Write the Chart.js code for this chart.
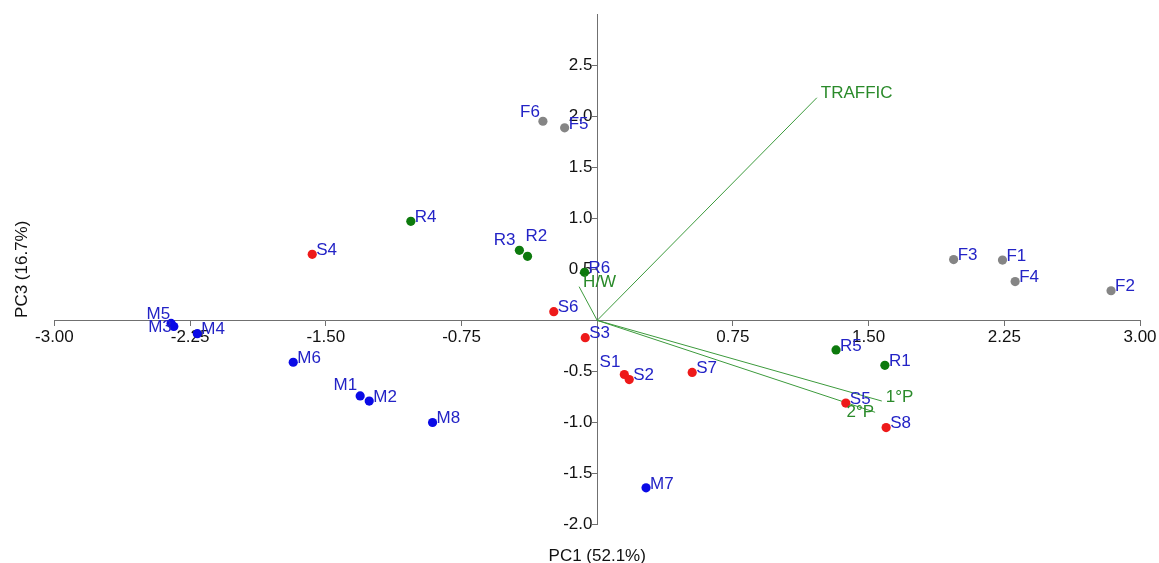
<!DOCTYPE html>
<html>
<head>
<meta charset="utf-8">
<script src="https://cdn.jsdelivr.net/npm/chart.js@4"></script>
<style>
  body { margin: 0; background: #fff; }
  #wrap { width: 1159px; height: 563px; }
</style>
</head>
<body>
<div id="wrap"><canvas id="myChart"></canvas></div>
<script>
// sample scores on PC1 / PC3
const mNames = ["M1", "M2", "M3", "M4", "M5", "M6", "M7", "M8"];
const mX = [-1.31, -1.26, -2.34, -2.21, -2.355, -1.68, 0.27, -0.91];
const mY = [-0.74, -0.79, -0.06, -0.13, -0.03, -0.41, -1.64, -1.0];

const fNames = ["F1", "F2", "F3", "F4", "F5", "F6"];
const fX = [2.24, 2.84, 1.97, 2.31, -0.18, -0.3];
const fY = [0.59, 0.29, 0.595, 0.38, 1.885, 1.95];

const rNames = ["R1", "R2", "R3", "R4", "R5", "R6"];
const rX = [1.59, -0.385, -0.43, -1.03, 1.32, -0.07];
const rY = [-0.44, 0.627, 0.686, 0.97, -0.29, 0.47];

const sNames = ["S1", "S2", "S3", "S4", "S5", "S6", "S7", "S8"];
const sX = [0.15, 0.177, -0.066, -1.575, 1.374, -0.24, 0.525, 1.597];
const sY = [-0.53, -0.58, -0.17, 0.647, -0.81, 0.085, -0.51, -1.05];

// variable loadings (arrows from origin)
const vecNames = ["TRAFFIC", "H/W", "1°P", "2°P"];
const vecX = [1.214, -0.1, 1.573, 1.536];
const vecY = [2.18, 0.33, -0.79, -0.9];

const xTicks = [-3, -2.25, -1.5, -0.75, 0, 0.75, 1.5, 2.25, 3];
const yTicks = [-2, -1.5, -1, -0.5, 0, 0.5, 1, 1.5, 2, 2.5];

// label placement tweaks [align, dx, dy]
const nudge = {
  M5: ["right", -1, -9],
  M3: ["right", -2, 1],
  M1: ["right", -3, -11],
  R3: ["right", -4, -10],
  R2: ["left", -2, -20],
  F6: ["right", -3, -9],
  S1: ["right", -4, -12],
  "2°P": ["right", -1, 0]
};

const FONT = 'Arial, "Liberation Sans", sans-serif';
Chart.defaults.font.family = FONT;
Chart.defaults.font.size = 17;
Chart.defaults.color = "#111";

function pts(xs, ys) {
  return xs.map((x, i) => ({ x: x, y: ys[i] }));
}

function group(names, xs, ys, color) {
  return {
    data: pts(xs, ys),
    names: names,
    textColor: "#2323c6",
    backgroundColor: color,
    borderWidth: 0,
    pointRadius: 4.6,
    pointHoverRadius: 4.6
  };
}

const datasets = [
  group(mNames, mX, mY, "#0a0ae6"),
  group(fNames, fX, fY, "#858585"),
  group(rNames, rX, rY, "#0d7a0d"),
  group(sNames, sX, sY, "#ee1a1a")
];
vecNames.forEach((n, i) => {
  datasets.push({
    data: [{ x: 0, y: 0 }, { x: vecX[i], y: vecY[i] }],
    names: ["", n],
    textColor: "#2a8a2a",
    showLine: true,
    borderColor: "#3c9a3c",
    borderWidth: 1,
    pointRadius: 0,
    pointHoverRadius: 0
  });
});

const pointLabels = {
  id: "pointLabels",
  afterDatasetsDraw(chart) {
    const ctx = chart.ctx;
    ctx.save();
    ctx.font = "17px " + FONT;
    ctx.textBaseline = "middle";
    chart.data.datasets.forEach((ds, di) => {
      const meta = chart.getDatasetMeta(di);
      meta.data.forEach((el, i) => {
        const name = ds.names[i];
        if (!name) return;
        const n = nudge[name] || ["left", 4, -4];
        ctx.fillStyle = ds.textColor;
        ctx.textAlign = n[0];
        ctx.fillText(name, el.x + n[1], el.y + n[2]);
      });
    });
    ctx.restore();
  }
};

const axisColor = "#707070";

new Chart(document.querySelector("#myChart"), {
  type: "scatter",
  data: { datasets: datasets },
  options: {
    responsive: true,
    maintainAspectRatio: false,
    animation: false,
    events: [],
    layout: { padding: { top: 14, right: 19, left: 0, bottom: -4 } },
    plugins: {
      legend: { display: false },
      tooltip: { enabled: false },
      title: {
        display: true,
        text: "PC1 (52.1%)",
        position: "bottom",
        fullSize: false,
        color: "#111",
        font: { size: 17, weight: "normal" },
        padding: { top: 22, bottom: 0 }
      },
      subtitle: {
        display: true,
        text: "PC3 (16.7%)",
        position: "left",
        fullSize: false,
        color: "#111",
        font: { size: 17, weight: "normal" },
        padding: { top: 12, bottom: 22 }
      }
    },
    scales: {
      x: {
        type: "linear",
        min: -3,
        max: 3,
        position: { y: 0 },
        afterFit: (s) => { s.height = 0; },
        afterBuildTicks: (s) => { s.ticks = xTicks.map((v) => ({ value: v })); },
        grid: { drawOnChartArea: false, drawTicks: true, tickLength: 5, tickColor: axisColor },
        border: { display: true, color: axisColor, width: 1 },
        ticks: {
          padding: 2,
          maxRotation: 0,
          autoSkip: false,
          callback: (v) => (Math.abs(v) < 1e-9 ? "" : v.toFixed(2))
        }
      },
      y: {
        type: "linear",
        min: -2,
        max: 3,
        position: { x: 0 },
        afterFit: (s) => { s.width = 0; },
        afterBuildTicks: (s) => { s.ticks = yTicks.map((v) => ({ value: v })); },
        grid: { drawOnChartArea: false, drawTicks: true, tickLength: 5, tickColor: axisColor },
        border: { display: true, color: axisColor, width: 1 },
        ticks: {
          padding: 1,
          autoSkip: false,
          // trailing space keeps the right-aligned label clear of the axis
          callback: (v) => (Math.abs(v) < 1e-9 ? "" : v.toFixed(1) + " ")
        }
      }
    }
  },
  plugins: [pointLabels]
});
</script>
</body>
</html>
